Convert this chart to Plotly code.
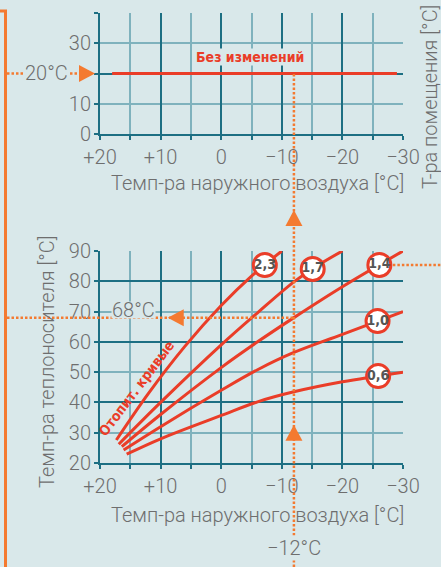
import numpy as np
import plotly.graph_objects as go

W, H = 441, 567

# ---- axis ticks -------------------------------------------------------
x_ticks = [20, 10, 0, -10, -20, -30]
x_ticktext = ["+20", "+10", "0", "−10", "−20", "−30"]
x_minor = [15, 5, -5, -15, -25]

room_labels = [0, 10, 30]
room_major = [0, 20, 40]
room_minor = [10, 30]

flow_labels = [20, 30, 40, 50, 60, 70, 80, 90]
flow_major = [20, 40, 60, 80]
flow_minor = [30, 50, 70, 90]

# ---- room temperature (unchanged) ------------------------------------
room_x = [18, -29]
room_y = [20, 20]

# ---- heating curves: outdoor temp -> flow temp -----------------------
curve_names = ["2,3", "1,7", "1,4", "1,0", "0,6"]
curve_x = {
    "2,3": [17.3, 12, 6, 0, -5, -10],
    "1,7": [16.9, 10, 0, -6, -12, -16, -20],
    "1,4": [16.4, 10, 0, -6, -12, -20, -30],
    "1,0": [16.1, 10, 0, -6, -12, -20, -30],
    "0,6": [15.6, 10, 0, -6, -12, -20, -30],
}
curve_y = {
    "2,3": [27.6, 43, 58.5, 72, 81.7, 90],
    "1,7": [26.2, 40, 59, 69.6, 79.8, 85.3, 90],
    "1,4": [25.4, 36, 51.5, 60, 68, 78.2, 90],
    "1,0": [24.3, 32, 44, 50.8, 56.5, 62.5, 70],
    "0,6": [22.9, 28, 35.7, 40.2, 43.5, 46.8, 50],
}
label_x = {"2,3": -7.2, "1,7": -15.1, "1,4": -26.1, "1,0": -25.8, "0,6": -25.9}

# worked example
outdoor_example = -12
flow_example = 68
room_example = 20

# ---- colours / fonts ----------------------------------------------------
BG = "#d9e8ea"
GRID_MAJ = "#1d6f83"
GRID_MIN = "#7fb2bd"
RED = "#ea3d28"
ORANGE = "#f47a30"
GREY = "#6e6e6e"
FONT = "Roboto"
COND = "DejaVu Sans Condensed, Roboto"
FS = 20

X_DOM = [100 / W, 403 / W]
TOP_DOM = [1 - 134 / H, 1 - 13 / H]
BOT_DOM = [1 - 463 / H, 1 - 251 / H]
X_RANGE = [20, -30]
TOP_RANGE = [0, 40]
BOT_RANGE = [20, 90]


def xp(v):
    """outdoor temperature -> paper x"""
    return X_DOM[0] + (v - X_RANGE[0]) / (X_RANGE[1] - X_RANGE[0]) * (X_DOM[1] - X_DOM[0])


def yp(v, dom, rng):
    return dom[0] + (v - rng[0]) / (rng[1] - rng[0]) * (dom[1] - dom[0])


def px(x, y):
    """paper -> pixel"""
    return x * W, (1 - y) * H


def tri(cx, cy, direction, size=17, depth=16):
    """triangle path in paper coordinates around a pixel centre"""
    h, d = size / 2, depth / 2
    if direction == "right":
        pts = [(cx + d, cy), (cx - d, cy - h), (cx - d, cy + h)]
    elif direction == "left":
        pts = [(cx - d, cy), (cx + d, cy - h), (cx + d, cy + h)]
    else:
        pts = [(cx, cy - d), (cx - h, cy + d), (cx + h, cy + d)]
    p = [(a / W, 1 - b / H) for a, b in pts]
    return "M {} {} L {} {} L {} {} Z".format(*[c for pt in p for c in pt])


fig = go.Figure()

# room temperature line
fig.add_trace(go.Scatter(x=room_x, y=room_y, xaxis="x", yaxis="y", mode="lines",
                         line=dict(color=RED, width=3), hoverinfo="skip", showlegend=False))

# heating curves
for name in curve_names:
    fig.add_trace(go.Scatter(x=curve_x[name], y=curve_y[name], xaxis="x2", yaxis="y2",
                             mode="lines", line=dict(color=RED, width=3, shape="spline", smoothing=1),
                             hoverinfo="skip", showlegend=False))

# curve badges
lx, ly = [], []
for name in curve_names:
    xs = np.array(curve_x[name])[::-1]
    ys = np.array(curve_y[name])[::-1]
    lx.append(label_x[name])
    ly.append(float(np.interp(label_x[name], xs, ys)))
fig.add_trace(go.Scatter(x=lx, y=ly, xaxis="x2", yaxis="y2", mode="markers+text",
                         text=curve_names, textposition="middle center",
                         textfont=dict(family=COND, size=14, color="#555555", weight="bold"),
                         marker=dict(size=23, color="white", line=dict(color=RED, width=3)),
                         cliponaxis=False, hoverinfo="skip", showlegend=False))

# empty traces so the label-only overlay axes get drawn
fig.add_trace(go.Scatter(x=[], y=[], xaxis="x", yaxis="y3", showlegend=False))
fig.add_trace(go.Scatter(x=[], y=[], xaxis="x2", yaxis="y4", showlegend=False))


def xaxis(anchor):
    return dict(domain=X_DOM, range=X_RANGE, anchor=anchor, automargin=False,
                tickmode="array", tickvals=x_ticks, ticktext=x_ticktext,
                tickfont=dict(family=FONT, size=FS, color=GREY, weight=300),
                showgrid=True, gridcolor=GRID_MAJ, gridwidth=1.5,
                showline=True, linecolor=GRID_MAJ, linewidth=2,
                ticks="outside", ticklen=4, tickcolor=GRID_MAJ, tickwidth=1.5,
                zeroline=False,
                minor=dict(tickvals=x_minor, showgrid=True, gridcolor=GRID_MIN, gridwidth=1.5,
                           ticks="outside", ticklen=4, tickcolor=GRID_MAJ, tickwidth=1.5))


def yaxis(anchor, dom, rng, major, minor):
    return dict(domain=dom, range=rng, anchor=anchor, automargin=False,
                tickmode="array", tickvals=major, showticklabels=False,
                showgrid=True, gridcolor=GRID_MAJ, gridwidth=1.5,
                showline=True, linecolor=GRID_MAJ, linewidth=2,
                ticks="outside", ticklen=4, tickcolor=GRID_MAJ, tickwidth=1.5,
                zeroline=False,
                minor=dict(tickvals=minor, showgrid=True, gridcolor=GRID_MIN, gridwidth=1.5,
                           ticks="outside", ticklen=4, tickcolor=GRID_MAJ, tickwidth=1.5))


def label_axis(over, anchor, rng, vals):
    return dict(overlaying=over, anchor=anchor, range=rng, side="left", automargin=False,
                tickmode="array", tickvals=vals, ticktext=[str(v) for v in vals],
                tickfont=dict(family=FONT, size=FS, color=GREY, weight=300),
                showgrid=False, showline=False, zeroline=False, ticks="outside",
                ticklen=4, tickcolor="rgba(0,0,0,0)")


shapes = []
dot = dict(color=ORANGE, width=2.5, dash="2.5px,2px")

# bracket on the far left
shapes.append(dict(type="path", xref="paper", yref="paper", layer="above",
                   path=f"M 0 {1 - 11 / H} L {5.5 / W} {1 - 11 / H} L {5.5 / W} 0",
                   line=dict(color=ORANGE, width=3)))

# room temperature guide
y20 = yp(room_example, TOP_DOM, TOP_RANGE)
shapes.append(dict(type="line", xref="paper", yref="paper", layer="above",
                   x0=7 / W, x1=X_DOM[0] - 8 / W, y0=y20, y1=y20, line=dot))
cx, cy = px(X_DOM[0], y20)
shapes.append(dict(type="path", xref="paper", yref="paper", layer="above",
                   path=tri(cx - 13, cy, "right"), fillcolor=ORANGE, line=dict(width=0)))

# outdoor temperature guide
shapes.append(dict(type="line", xref="x", yref="paper", layer="above",
                   x0=outdoor_example, x1=outdoor_example, y0=0, y1=y20, line=dot))
cx, _ = px(xp(outdoor_example), 0)
_, cy = px(0, BOT_DOM[1])
shapes.append(dict(type="path", xref="paper", yref="paper", layer="above",
                   path=tri(cx, cy - 33, "up"), fillcolor=ORANGE, line=dict(width=0)))
_, cy = px(0, yp(30, BOT_DOM, BOT_RANGE))
shapes.append(dict(type="path", xref="paper", yref="paper", layer="above",
                   path=tri(cx, cy, "up"), fillcolor=ORANGE, line=dict(width=0)))

# flow temperature guide
y68 = yp(flow_example, BOT_DOM, BOT_RANGE)
shapes.append(dict(type="line", xref="paper", yref="paper", layer="above",
                   x0=7 / W, x1=xp(outdoor_example), y0=y68, y1=y68, line=dot))
cx, cy = px(xp(7.5), y68)
shapes.append(dict(type="path", xref="paper", yref="paper", layer="above",
                   path=tri(cx, cy, "left"), fillcolor=ORANGE, line=dict(width=0)))

# pointer from the 1,4 badge
y85 = yp(ly[2], BOT_DOM, BOT_RANGE)
shapes.append(dict(type="line", xref="paper", yref="paper", layer="below",
                   x0=xp(label_x["1,4"]), x1=1, y0=y85, y1=y85, line=dot))

tfont = dict(family=FONT, size=FS, color=GREY, weight=300)
C = dict(xanchor="center", yanchor="middle", showarrow=False)
annotations = [
    dict(text="Темп-ра наружного воздуха [°C]", xref="paper", yref="paper",
         x=257 / W, y=1 - 183 / H, font=tfont, **C),
    dict(text="Темп-ра наружного воздуха [°C]", xref="paper", yref="paper",
         x=257 / W, y=1 - 515 / H, font=tfont, **C),
    dict(text="Темп-ра теплоносителя [°C]", xref="paper", yref="paper",
         x=47 / W, y=1 - 362 / H, font=tfont, textangle=-90, **C),
    dict(text="Т-ра помещения [°C]", xref="paper", yref="paper",
         x=430 / W, y=1 - 97 / H, font=tfont, textangle=-90, **C),
    dict(text="20°C", xref="paper", yref="paper", x=46 / W, y=y20,
         font=tfont, bgcolor=BG, borderpad=0, **C),
    dict(text="68°C", xref="x2", yref="y2", x=14.4, y=70, yshift=2,
         font=tfont, bgcolor=BG, borderpad=0, height=16, **C),
    dict(text="−12°C", xref="x", yref="paper", x=outdoor_example, y=1 - 548 / H,
         font=tfont, bgcolor=BG, borderpad=0, **C),
    dict(text="Без изменений", xref="x", yref="y", x=-4.7, y=25.3,
         font=dict(family=COND, size=14, color=RED, weight="bold"), bgcolor=BG, borderpad=0, **C),
    dict(text="Отопит. кривые", xref="x2", yref="y2", x=13.95, y=44.7,
         textangle=-53, font=dict(family=COND, size=14, color=RED, weight="bold"), **C),
]

fig.update_layout(
    template="none",
    width=W, height=H,
    margin=dict(l=0, r=0, t=0, b=0),
    paper_bgcolor=BG, plot_bgcolor=BG,
    xaxis=xaxis("y"),
    yaxis=yaxis("x", TOP_DOM, TOP_RANGE, room_major, room_minor),
    xaxis2=xaxis("y2"),
    yaxis2=yaxis("x2", BOT_DOM, BOT_RANGE, flow_major, flow_minor),
    yaxis3=label_axis("y", "x", TOP_RANGE, room_labels),
    yaxis4=label_axis("y2", "x2", BOT_RANGE, flow_labels),
    shapes=shapes,
    annotations=annotations,
    showlegend=False,
)

fig.write_html("out.html")
